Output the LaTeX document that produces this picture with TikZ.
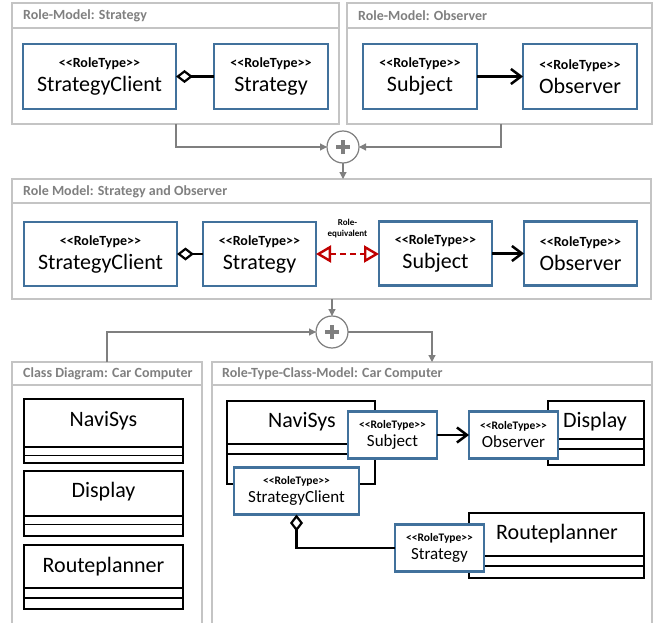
\documentclass[tikz,border=0pt]{standalone}
\usepackage{fontspec}
\setmainfont{Carlito}
\usetikzlibrary{arrows.meta}
\definecolor{pgray}{HTML}{C4C4C4}
\definecolor{tgray}{HTML}{808080}
\definecolor{cgray}{HTML}{7F7F7F}
\definecolor{rblue}{HTML}{41719C}
\definecolor{rred}{HTML}{C00000}
\newcommand\stereo{\mbox{<}\mbox{<}RoleType\mbox{>}\mbox{>}}
\newcommand\bigrole[1]{{\bfseries\fontsize{14}{14}\selectfont\stereo}\\#1}
\newcommand\smallrole[1]{{\bfseries\fontsize{11.5}{11.5}\selectfont\stereo}\\#1}
\tikzset{
  panel/.style={draw=pgray, line width=1.5pt, fill=white, inner sep=0pt, outer sep=0pt},
  hline/.style={draw=pgray, line width=1.2pt},
  ptitle/.style={anchor=west, inner sep=0pt, text=tgray, font=\bfseries\fontsize{14}{14}\selectfont},
  rolebig/.style={draw=rblue, line width=2.5pt, fill=white, inner sep=0pt, outer sep=0pt, align=center, font=\fontsize{22}{24}\selectfont},
  rolesmall/.style={draw=rblue, line width=2.5pt, fill=white, inner sep=0pt, outer sep=0pt, align=center, font=\fontsize{17}{18}\selectfont},
  cls/.style={draw=black, line width=2.5pt, fill=white, inner sep=0pt, outer sep=0pt},
  clsline/.style={draw=black, line width=1.2pt},
  clsname/.style={inner sep=0pt, font=\fontsize{22}{22}\selectfont},
  agg/.style={draw=black, line width=2.5pt, {Diamond[open,fill=white,length=17pt,width=13pt,line width=2.2pt]}-},
  assoc/.style={draw=black, line width=2.5pt, -{Straight Barb[length=10pt,width=15pt,line width=2.5pt]}},
  conn/.style={draw=cgray, line width=1.2pt, -{Triangle[length=7pt,width=7pt]}},
  plus/.style={circle, draw=cgray, line width=1.2pt, fill=white, minimum size=32pt, inner sep=0pt, outer sep=0pt,
    path picture={\draw[cgray, line width=3.2pt] (path picture bounding box.center) +(-7pt,0) -- +(7pt,0)
      (path picture bounding box.center) +(0,-7pt) -- +(0,7pt);}},
  roleq/.style={draw=rred, line width=2.4pt, dash pattern=on 6pt off 4pt,
    {Triangle[open,fill=white,length=15pt,width=17pt]}-{Triangle[open,fill=white,length=15pt,width=17pt]}},
  eqlabel/.style={inner sep=0pt, align=center, font=\bfseries\fontsize{9}{11}\selectfont}
}
\begin{document}
\begin{tikzpicture}[x=1pt,y=-1pt]
\useasboundingbox (0,0) rectangle (653,623);
\fill[white] (0,0) rectangle (653,623);

% ---------- panels ----------
\node[panel, minimum width=327, minimum height=121] (p1) at (175.5,63.5) {};
\draw[hline] ([yshift=-25pt]p1.north west) -- ([yshift=-25pt]p1.north east);
\node[ptitle] (t1) at (23,16) {Role-Model: Strategy};

\node[panel, minimum width=305, minimum height=121] (p2) at (499.5,63.5) {};
\draw[hline] ([yshift=-25pt]p2.north west) -- ([yshift=-25pt]p2.north east);
\node[ptitle] (t2) at (358,16) {Role-Model: Observer};

\node[panel, minimum width=639, minimum height=120] (p3) at (331.5,239) {};
\draw[hline] ([yshift=-24pt]p3.north west) -- ([yshift=-24pt]p3.north east);
\node[ptitle] (t3) at (23,191.5) {Role Model: Strategy and Observer};

\node[panel, minimum width=190, minimum height=280] (p4) at (107,502) {};
\draw[hline] ([yshift=-23pt]p4.north west) -- ([yshift=-23pt]p4.north east);
\node[ptitle] (t4) at (23,374) {Class Diagram: Car Computer};

\node[panel, minimum width=440, minimum height=280] (p5) at (432,502) {};
\draw[hline] ([yshift=-23pt]p5.north west) -- ([yshift=-23pt]p5.north east);
\node[ptitle] (t5) at (222,374) {Role-Type-Class-Model: Car Computer};

% ---------- panel 1 ----------
\node[rolebig, minimum width=153, minimum height=65] (SC1) at (99.5,76.5) {\bigrole{StrategyClient}};
\node[rolebig, minimum width=114, minimum height=65] (S1) at (271,76.5) {\bigrole{Strategy}};
\draw[agg] (SC1.east) -- (S1.west);

% ---------- panel 2 ----------
\node[rolebig, minimum width=114, minimum height=65] (Sub1) at (420,76.5) {\bigrole{Subject}};
\node[rolebig, minimum width=114, minimum height=65] (Obs1) at (580,76.5) {\bigrole{Observer}};
\draw[assoc] (Sub1.east) -- (Obs1.west);

% ---------- merge 1 ----------
\node[plus] (j1) at (343,147) {};
\coordinate (k1) at (176,0);
\coordinate (k2) at (501,0);
\draw[conn] (p1.south -| k1) |- (j1.west);
\draw[conn] (p2.south -| k2) |- (j1.east);
\draw[conn] (j1.south) -- (j1.south |- p3.north);

% ---------- panel 3 ----------
\node[rolebig, minimum width=153, minimum height=64] (SC3) at (100.5,254) {\bigrole{StrategyClient}};
\node[rolebig, minimum width=113, minimum height=64] (S3) at (259.5,254) {\bigrole{Strategy}};
\node[rolebig, minimum width=113, minimum height=64] (Sub3) at (435.5,253.5) {\bigrole{Subject}};
\node[rolebig, minimum width=113, minimum height=64] (Obs3) at (580.5,253.5) {\bigrole{Observer}};
\draw[agg] (SC3.east) -- (S3.west);
\draw[assoc] (Sub3.east) -- (Obs3.west);
\draw[roleq] (S3.east) -- (S3.east -| Sub3.west);
\node[eqlabel] (eq) at (347.5,229) {Role-\\equivalent};

% ---------- merge 2 ----------
\node[plus] (j2) at (332,332) {};
\coordinate (k3) at (107,0);
\coordinate (k4) at (432,0);
\draw[conn] (j2.north |- p3.south) -- (j2.north);
\draw[conn] (p4.north -| k3) |- (j2.west);
\draw[conn] (j2.east) -| (p5.north -| k4);

% ---------- panel 4: classes ----------
\node[cls, minimum width=159, minimum height=64] (N4) at (103.5,431) {};
\draw[clsline] ([yshift=16pt]N4.south west) -- ([yshift=16pt]N4.south east);
\draw[clsline] ([yshift=7.6pt]N4.south west) -- ([yshift=7.6pt]N4.south east);
\node[clsname] (N4t) at (103.5,421) {NaviSys};

\node[cls, minimum width=159, minimum height=65] (D4) at (103.5,503.5) {};
\draw[clsline] ([yshift=20pt]D4.south west) -- ([yshift=20pt]D4.south east);
\draw[clsline] ([yshift=11.7pt]D4.south west) -- ([yshift=11.7pt]D4.south east);
\node[clsname] (D4t) at (103.5,492) {Display};

\node[cls, minimum width=159, minimum height=64] (R4) at (103.5,577) {};
\draw[clsline] ([yshift=21pt]R4.south west) -- ([yshift=21pt]R4.south east);
\draw[clsline] ([yshift=11pt]R4.south west) -- ([yshift=11pt]R4.south east);
\node[clsname] (R4t) at (103.5,567) {Routeplanner};

% ---------- panel 5 ----------
\node[cls, minimum width=148, minimum height=83] (N5) at (301,442.5) {};
\draw[clsline] ([yshift=40pt]N5.south west) -- ([yshift=40pt]N5.south east);
\draw[clsline] ([yshift=30pt]N5.south west) -- ([yshift=30pt]N5.south east);
\node[clsname] (N5t) at (302,422) {NaviSys};

\node[cls, minimum width=96, minimum height=64] (D5) at (596,433) {};
\draw[clsline] ([yshift=26pt]D5.south west) -- ([yshift=26pt]D5.south east);
\draw[clsline] ([yshift=16pt]D5.south west) -- ([yshift=16pt]D5.south east);
\node[clsname] (D5t) at (595,422) {Display};

\node[cls, minimum width=175, minimum height=65] (R5) at (556.5,545.5) {};
\draw[clsline] ([yshift=22pt]R5.south west) -- ([yshift=22pt]R5.south east);
\draw[clsline] ([yshift=12pt]R5.south west) -- ([yshift=12pt]R5.south east);
\node[clsname] (R5t) at (557,534) {Routeplanner};

\node[rolesmall, minimum width=89, minimum height=47] (Sub5) at (392.5,435) {\smallrole{Subject}};
\node[rolesmall, minimum width=89, minimum height=47] (Obs5) at (513.5,435) {\smallrole{Observer}};
\node[rolesmall, minimum width=125, minimum height=47] (SC5) at (296.5,491) {\smallrole{StrategyClient}};
\node[rolesmall, minimum width=89, minimum height=47] (St5) at (439.5,548) {\smallrole{Strategy}};
\draw[assoc] (Sub5.east) -- (Obs5.west);
\draw[agg] (SC5.south) |- (St5.west);
\end{tikzpicture}
\end{document}
